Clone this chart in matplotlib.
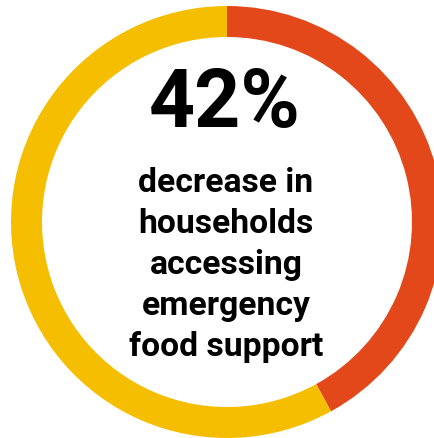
import matplotlib.pyplot as plt

# share of the ring
labels = ["decrease", "rest"]
shares = [42, 58]
colors = ["#E2481A", "#F5BE00"]

headline = "42%"
caption = ["decrease in", "households", "accessing", "emergency", "food support"]

plt.rcParams["font.family"] = ["Roboto", "DejaVu Sans"]

fig = plt.figure(figsize=(4.35, 4.38), dpi=100)
ax = fig.add_axes([0, 0, 1, 1])

# pixel-like data units, ring centre at (227, 222) from top-left
ax.pie(shares, colors=colors, startangle=90, counterclock=False,
       radius=216, wedgeprops=dict(width=31, linewidth=0))
ax.set_aspect("auto")
ax.set_xlim(-227, 208)
ax.set_ylim(-216, 222)
ax.axis("off")

ax.text(-2, 95, headline, ha="center", va="baseline",
        fontsize=58, fontweight="bold", color="black")

# caption lines, one per baseline
y = 30
for line in caption:
    ax.text(-1, y, line, ha="center", va="baseline",
            fontsize=24.2, fontweight="bold", color="black")
    y -= 41

fig.savefig("out.png", dpi=100)
